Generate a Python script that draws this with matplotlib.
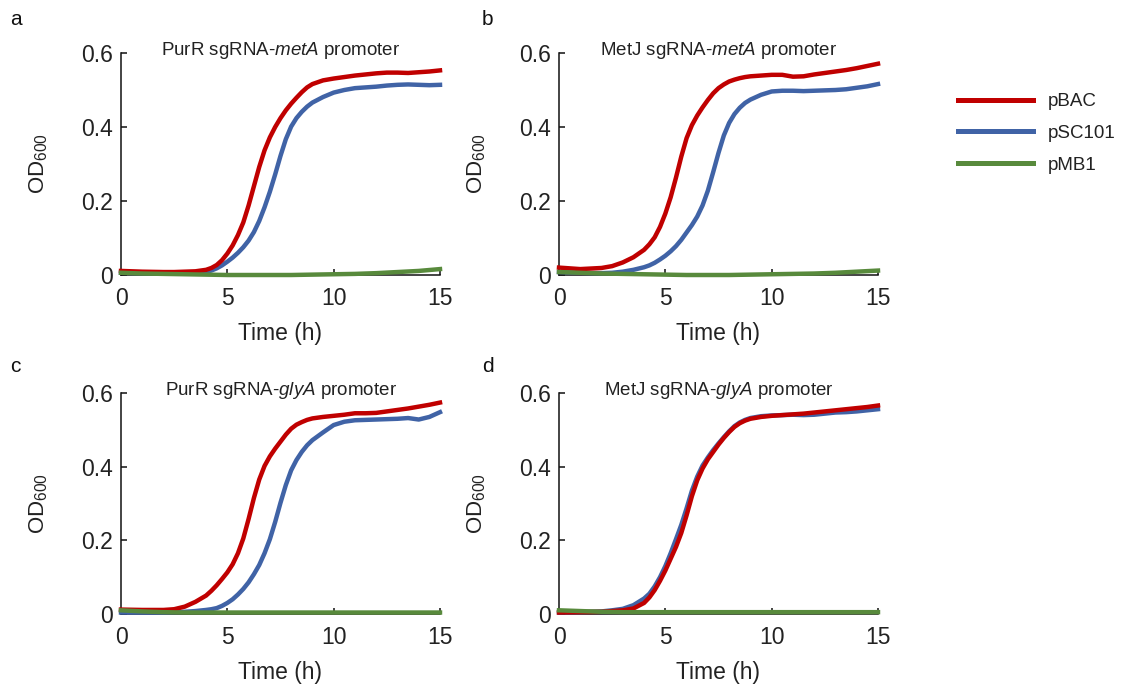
import matplotlib
matplotlib.use("Agg")
import matplotlib.pyplot as plt

plt.rcParams["font.family"] = ["Liberation Sans", "DejaVu Sans"]
plt.rcParams["mathtext.fontset"] = "custom"
plt.rcParams["mathtext.rm"] = "Liberation Sans"
plt.rcParams["mathtext.it"] = "Liberation Sans:italic"
plt.rcParams["mathtext.bf"] = "Liberation Sans:bold"

# time grid (h) for the pBAC / pSC101 curves
TIME = [0, 1, 2, 2.5, 3, 3.5, 4, 4.25, 4.5, 4.75, 5, 5.25, 5.5, 5.75, 6, 6.25,
        6.5, 6.75, 7, 7.25, 7.5, 7.75, 8, 8.25, 8.5, 8.75, 9, 9.5, 10, 10.5,
        11, 11.5, 12, 12.5, 13, 13.5, 14, 14.5, 15]
# coarser grid for the flat pMB1 curves
TIME_MB1 = [0, 1, 2, 3, 4, 5, 6, 7, 8, 9, 10, 11, 12, 13, 14, 15]

# a: PurR sgRNA-metA promoter
a_pbac = [0.011, 0.009, 0.008, 0.008, 0.009, 0.010, 0.014, 0.019, 0.027, 0.040,
          0.058, 0.080, 0.108, 0.142, 0.188, 0.240, 0.292, 0.337, 0.372, 0.400,
          0.424, 0.445, 0.463, 0.479, 0.494, 0.507, 0.516, 0.526, 0.531, 0.535,
          0.539, 0.542, 0.545, 0.547, 0.547, 0.546, 0.548, 0.550, 0.553]
a_psc101 = [0.006, 0.005, 0.004, 0.004, 0.005, 0.006, 0.009, 0.012, 0.018, 0.026,
            0.036, 0.047, 0.060, 0.075, 0.093, 0.116, 0.146, 0.183, 0.225, 0.272,
            0.322, 0.367, 0.401, 0.424, 0.441, 0.455, 0.466, 0.481, 0.493, 0.500,
            0.505, 0.507, 0.509, 0.512, 0.514, 0.515, 0.514, 0.513, 0.514]
a_pmb1 = [0.006, 0.004, 0.003, 0.002, 0.001, 0.0, 0.0, 0.0, 0.0, 0.001, 0.002,
          0.003, 0.005, 0.008, 0.011, 0.016]

# b: MetJ sgRNA-metA promoter
b_pbac = [0.020, 0.016, 0.019, 0.024, 0.034, 0.048, 0.068, 0.083, 0.102, 0.130,
          0.166, 0.210, 0.263, 0.320, 0.370, 0.405, 0.431, 0.453, 0.473, 0.491,
          0.505, 0.515, 0.523, 0.528, 0.532, 0.535, 0.537, 0.539, 0.541, 0.541,
          0.536, 0.537, 0.542, 0.546, 0.550, 0.554, 0.559, 0.565, 0.571]
b_psc101 = [0.008, 0.006, 0.005, 0.006, 0.009, 0.014, 0.021, 0.026, 0.033, 0.042,
            0.052, 0.064, 0.078, 0.095, 0.115, 0.135, 0.158, 0.188, 0.228, 0.278,
            0.330, 0.377, 0.411, 0.435, 0.452, 0.465, 0.474, 0.487, 0.496, 0.498,
            0.498, 0.497, 0.498, 0.499, 0.500, 0.502, 0.506, 0.510, 0.516]
b_pmb1 = [0.008, 0.006, 0.004, 0.003, 0.002, 0.001, 0.0, 0.0, 0.0, 0.001, 0.002,
          0.003, 0.004, 0.006, 0.009, 0.012]

# c: PurR sgRNA-glyA promoter
c_pbac = [0.012, 0.011, 0.011, 0.013, 0.020, 0.033, 0.050, 0.063, 0.078, 0.095,
          0.113, 0.135, 0.165, 0.205, 0.258, 0.315, 0.365, 0.402, 0.428, 0.449,
          0.468, 0.487, 0.503, 0.514, 0.521, 0.527, 0.531, 0.535, 0.538, 0.541,
          0.545, 0.545, 0.546, 0.550, 0.554, 0.558, 0.563, 0.568, 0.574]
c_psc101 = [0.004, 0.004, 0.004, 0.005, 0.006, 0.008, 0.011, 0.013, 0.016, 0.022,
            0.030, 0.040, 0.053, 0.068, 0.086, 0.108, 0.133, 0.165, 0.203, 0.250,
            0.302, 0.350, 0.390, 0.418, 0.440, 0.458, 0.472, 0.493, 0.513, 0.522,
            0.526, 0.527, 0.528, 0.529, 0.530, 0.532, 0.528, 0.535, 0.548]
c_pmb1 = [0.010, 0.007, 0.005, 0.004, 0.004, 0.004, 0.004, 0.004, 0.004, 0.004,
          0.004, 0.004, 0.004, 0.004, 0.004, 0.004]

# d: MetJ sgRNA-glyA promoter
d_pbac = [0.004, 0.005, 0.006, 0.008, 0.010, 0.015, 0.030, 0.045, 0.065, 0.090,
          0.118, 0.150, 0.182, 0.220, 0.268, 0.320, 0.363, 0.395, 0.420, 0.440,
          0.460, 0.478, 0.494, 0.508, 0.518, 0.525, 0.530, 0.535, 0.538, 0.540,
          0.542, 0.544, 0.547, 0.550, 0.553, 0.556, 0.559, 0.562, 0.566]
d_psc101 = [0.004, 0.005, 0.007, 0.010, 0.014, 0.024, 0.042, 0.055, 0.075, 0.100,
            0.130, 0.165, 0.203, 0.242, 0.287, 0.335, 0.373, 0.403, 0.425, 0.445,
            0.463, 0.480, 0.496, 0.510, 0.520, 0.527, 0.532, 0.537, 0.539, 0.540,
            0.541, 0.540, 0.541, 0.544, 0.547, 0.548, 0.550, 0.553, 0.556]
d_pmb1 = [0.010, 0.008, 0.006, 0.005, 0.005, 0.005, 0.005, 0.005, 0.005, 0.005,
          0.005, 0.005, 0.005, 0.005, 0.005, 0.005]

PANELS = [
    ("a", "PurR sgRNA-$\\it{metA}$ promoter", a_pbac, a_psc101, a_pmb1),
    ("b", "MetJ sgRNA-$\\it{metA}$ promoter", b_pbac, b_psc101, b_pmb1),
    ("c", "PurR sgRNA-$\\it{glyA}$ promoter", c_pbac, c_psc101, c_pmb1),
    ("d", "MetJ sgRNA-$\\it{glyA}$ promoter", d_pbac, d_psc101, d_pmb1),
]
X_TICKS = [0, 5, 10, 15]
Y_TICKS = [0, 0.2, 0.4, 0.6]
Y_TICK_LABELS = ["0", "0.2", "0.4", "0.6"]

RED = "#C00000"
BLUE = "#4063A6"
GREEN = "#588A3C"
TXT = "#222222"

W, H = 1121, 688
fig = plt.figure(figsize=(W / 100, H / 100), dpi=100)

# axes boxes in pixels: left, top(0.6), right(15), bottom(0)
boxes = [(121, 53, 440, 275), (559, 53, 878, 275),
         (121, 393, 440, 614), (559, 393, 878, 614)]
letter_pos = [(10, 25), (482, 25), (10, 372), (482, 372)]

handles = None
for (letter, title, pbac, psc, pmb1), (l, t, r, b), (lx, ly) in zip(PANELS, boxes, letter_pos):
    ax = fig.add_axes([l / W, 1 - b / H, (r - l) / W, (b - t) / H])
    h2, = ax.plot(TIME, psc, color=BLUE, lw=3.2, clip_on=False, zorder=3, label="pSC101")
    h1, = ax.plot(TIME, pbac, color=RED, lw=3.2, clip_on=False, zorder=4, label="pBAC")
    h3, = ax.plot(TIME_MB1, pmb1, color=GREEN, lw=3.2, clip_on=False, zorder=5, label="pMB1")
    if handles is None:
        handles = [h1, h2, h3]

    ax.set_xlim(0, 15)
    ax.set_ylim(0, 0.6)
    ax.set_xticks(X_TICKS)
    ax.set_yticks(Y_TICKS)
    ax.set_yticklabels(Y_TICK_LABELS)
    for side in ("top", "right"):
        ax.spines[side].set_visible(False)
    for side in ("left", "bottom"):
        ax.spines[side].set_color("#111111")
        ax.spines[side].set_linewidth(1.1)
    ax.tick_params(direction="in", length=4, width=1.1, colors="#111111",
                   labelsize=16.5, labelcolor=TXT)
    ax.tick_params(axis="x", pad=9)
    ax.tick_params(axis="y", pad=6)

    ax.set_xlabel("Time (h)", fontsize=16.5, color=TXT, labelpad=8)
    ax.set_ylabel("OD$_{600}$", fontsize=16, color=TXT)
    ax.yaxis.set_label_coords(-0.222, 0.5)

    ax.text(0.5, 0.99, title, transform=ax.transAxes, ha="center", va="baseline",
            fontsize=13.5, color=TXT)
    fig.text(lx / W, 1 - ly / H, letter, fontsize=15, color="#111111",
             ha="left", va="baseline")

fig.legend(handles=handles, labels=["pBAC", "pSC101", "pMB1"],
           loc="upper left", bbox_to_anchor=(958 / W, 1 - 93 / H),
           frameon=False, fontsize=13.5, handlelength=4.0, handletextpad=0.8,
           labelspacing=0.78, borderpad=0, borderaxespad=0,
           labelcolor=TXT)
for line in fig.legends[0].get_lines():
    line.set_linewidth(3.6)

fig.savefig("out.png", dpi=100)
